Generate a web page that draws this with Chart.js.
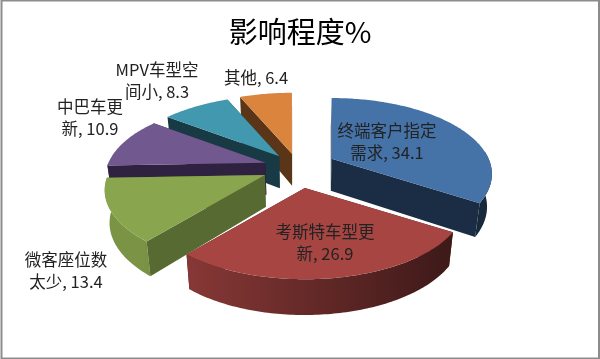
<!DOCTYPE html>
<html>
<head>
<meta charset="utf-8">
<script src="https://cdn.jsdelivr.net/npm/chart.js@4"></script>
<style>
  html, body { margin: 0; padding: 0; background: #fff; }
  #wrap { position: relative; width: 600px; height: 359px; }
</style>
</head>
<body>
<div id="wrap"><canvas id="chart" width="600" height="359"></canvas></div>
<script>
const titleText = '影响程度%';
// each category is split the way the reference wraps it
const categories = [
  ['终端客户指定', '需求'],
  ['考斯特车型更', '新'],
  ['微客座位数', '太少'],
  ['中巴车更', '新'],
  ['MPV车型空', '间小'],
  ['其他']
];
const values = [34.1, 26.9, 13.4, 10.9, 8.3, 6.4];
const topColors = ['#4572A7', '#A64542', '#89A54E', '#71588F', '#4198AF', '#DB843D'];
const faceColors = ['#1A2D45', '#4D1D1B', '#576A32', '#2E2240', '#173A45', '#5A3517'];
const explode = [25, 27, 23, 22, 20, 20];
const labelCenters = [[387, 131], [325, 232], [66, 260], [90, 107], [157, 70], [256, 78]];

// projection of the pie plane
const view = { shiftX: -2, rx: 157, ry: 73, k: 0.2, depth: 32, taper: 0.975 };

function shade(hex, f) {
  const n = parseInt(hex.slice(1), 16);
  const c = [n >> 16, (n >> 8) & 255, n & 255].map(v => Math.round(v * f));
  return `rgb(${c[0]},${c[1]},${c[2]})`;
}

function flat(u, v) {
  const s = 1 / (1 - view.k * v);
  return { x: view.rx * u * s, y: view.ry * v * s, s };
}

const pie3d = {
  id: 'pie3d',
  beforeDatasetsDraw(chart) {
    const ctx = chart.ctx;
    const arcs = chart.getDatasetMeta(0).data.map((arc, i) => ({ arc, i }));
    const midOf = a => (a.startAngle + a.endAngle) / 2;
    arcs.sort((p, q) => Math.sin(midOf(p.arc)) - Math.sin(midOf(q.arc)));

    arcs.forEach(({ arc, i }) => {
      const mid = midOf(arc);
      const shift = arc.options.offset / arc.outerRadius;
      const base = flat(shift * Math.cos(mid), shift * Math.sin(mid));
      const cx = arc.x + view.shiftX;
      const top = (u, v) => {
        const p = flat(u, v);
        return { x: cx + base.x + p.x, y: arc.y + base.y + p.y };
      };
      const bottom = (u, v) => {
        const p = flat(u, v);
        return {
          x: cx + (base.x + p.x) * view.taper,
          y: arc.y + base.y + p.y + view.depth * Math.sqrt(p.s)
        };
      };
      const rim = (a, b) => {
        const pts = [];
        const n = Math.max(2, Math.ceil((b - a) * 60));
        for (let j = 0; j <= n; j++) {
          const t = a + (b - a) * j / n;
          pts.push([Math.cos(t), Math.sin(t)]);
        }
        return pts;
      };
      const fill = (pts, color) => {
        ctx.beginPath();
        pts.forEach((p, j) => j ? ctx.lineTo(p.x, p.y) : ctx.moveTo(p.x, p.y));
        ctx.closePath();
        ctx.fillStyle = color;
        ctx.fill();
      };
      const a = arc.startAngle, b = arc.endAngle;
      const face = t => {
        const u = Math.cos(t), v = Math.sin(t);
        fill([top(0, 0), top(u, v), bottom(u, v), bottom(0, 0)], faceColors[i]);
      };
      const startSeen = Math.cos(a) < 0;
      const endSeen = Math.cos(b) > 0;

      if (!startSeen) face(a);
      if (!endSeen) face(b);

      // outer wall, front part of the rim only
      const wallFrom = Math.max(a, -0.1);
      const wallTo = Math.min(b, Math.PI);
      if (wallTo > wallFrom) {
        const pts = rim(wallFrom, wallTo);
        const grad = ctx.createLinearGradient(cx - view.rx, 0, cx + view.rx, 0);
        grad.addColorStop(0, shade(topColors[i], 0.89));
        grad.addColorStop(1, shade(topColors[i], 0.36));
        fill(pts.map(p => top(p[0], p[1])).concat(pts.slice().reverse().map(p => bottom(p[0], p[1]))), grad);
      }

      if (startSeen) face(a);
      if (endSeen) face(b);

      fill([top(0, 0)].concat(rim(a, b).map(p => top(p[0], p[1]))), topColors[i]);
    });
    return false;
  },
  afterDraw(chart) {
    const ctx = chart.ctx;
    ctx.save();
    ctx.strokeStyle = '#8c8c8c';
    ctx.lineWidth = 2;
    ctx.strokeRect(1.5, 0.5, 597.5, 358);
    ctx.font = '16.5px "Noto Sans CJK SC"';
    ctx.fillStyle = '#222';
    ctx.textAlign = 'center';
    ctx.textBaseline = 'middle';
    categories.forEach((lines, i) => {
      const [x, y] = labelCenters[i];
      lines.forEach((line, j) => {
        const text = j === lines.length - 1 ? `${line}, ${values[i]}` : line;
        ctx.fillText(text, x, y + j * 21.5);
      });
    });
    ctx.restore();
  }
};

new Chart(document.getElementById('chart'), {
  type: 'pie',
  data: {
    labels: categories.map(c => c.join('')),
    datasets: [{ data: values, backgroundColor: topColors, offset: explode, borderWidth: 0 }]
  },
  options: {
    responsive: false,
    animation: false,
    radius: 100,
    layout: { padding: { bottom: 84 } },
    plugins: {
      legend: { display: false },
      tooltip: { enabled: false },
      title: {
        display: true,
        text: titleText,
        color: '#000',
        font: { family: '"Noto Sans CJK SC"', size: 29, weight: 'normal' },
        padding: { top: 15, bottom: 10 }
      }
    }
  },
  plugins: [pie3d]
});
</script>
</body>
</html>
